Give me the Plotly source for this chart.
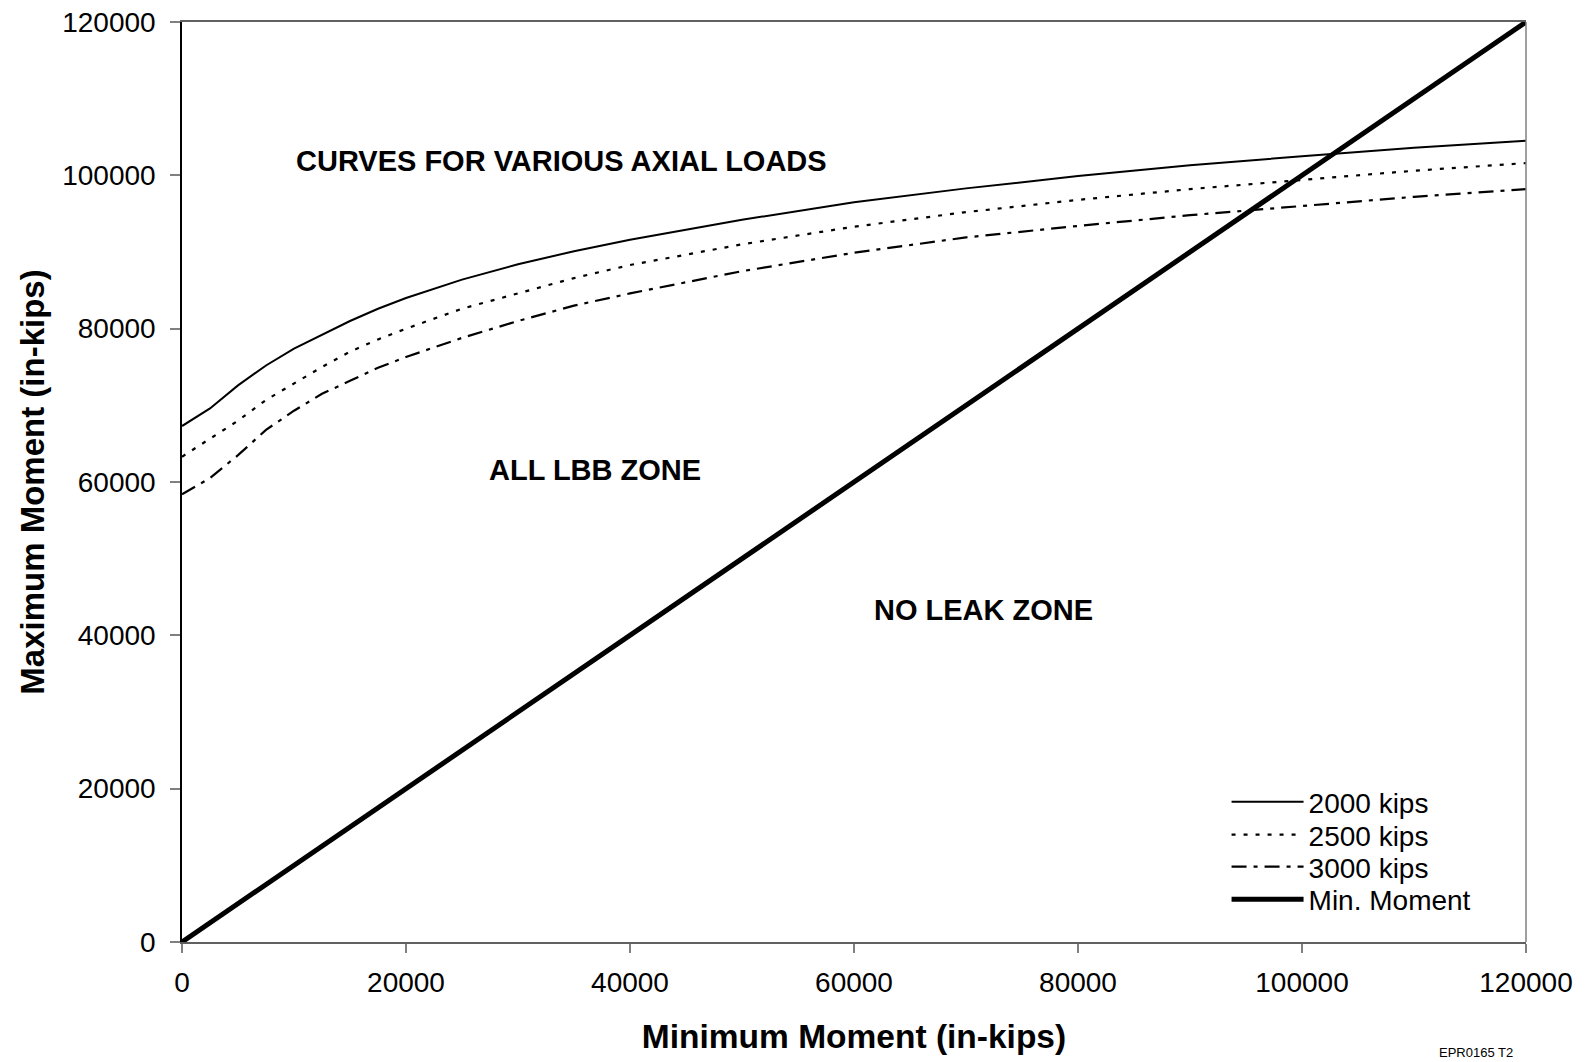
import plotly.graph_objects as go

FONT = "Liberation Sans, Arial, sans-serif"

# Minimum moment (in-kips) sample points
min_moment = [0, 2500, 5000, 7500, 10000, 12500, 15000, 17500, 20000, 25000, 30000,
              35000, 40000, 50000, 60000, 70000, 80000, 90000, 100000, 110000, 120000]

# Maximum moment curves (in-kips) for each axial load
max_2000 = [67300, 69600, 72600, 75200, 77400, 79200, 81000, 82600, 84000, 86400, 88400,
            90100, 91600, 94200, 96500, 98300, 99900, 101300, 102500, 103600, 104500]
max_2500 = [63300, 65600, 68000, 70700, 72900, 75000, 77000, 78600, 80000, 82600, 84600,
            86600, 88300, 91000, 93300, 95200, 96800, 98200, 99400, 100600, 101600]
max_3000 = [58400, 60500, 63500, 66800, 69300, 71500, 73200, 74900, 76300, 78800, 81000,
            83000, 84600, 87500, 89900, 91900, 93400, 94800, 96000, 97200, 98200]

# Min. Moment line (max = min)
diag_x = [0, 120000]
diag_y = [0, 120000]

fig = go.Figure()

fig.add_trace(go.Scatter(x=min_moment, y=max_2000, mode='lines', name='2000 kips',
                         line=dict(color='black', width=2), legend='legend'))
fig.add_trace(go.Scatter(x=min_moment, y=max_2500, mode='lines', name='2500 kips',
                         line=dict(color='black', width=2.2, dash='4px,8px'), legend='legend2'))
fig.add_trace(go.Scatter(x=min_moment, y=max_3000, mode='lines', name='3000 kips',
                         line=dict(color='black', width=2.2, dash='15px,7px,4px,7px'),
                         legend='legend3'))
fig.add_trace(go.Scatter(x=diag_x, y=diag_y, mode='lines', name='Min. Moment',
                         line=dict(color='black', width=5), legend='legend4'))

label_font = dict(family=FONT, size=29, color='black')

fig.add_annotation(x=33900, y=101900, text="<b>CURVES FOR VARIOUS AXIAL LOADS</b>",
                   showarrow=False, font=label_font)
fig.add_annotation(x=36900, y=61600, text="<b>ALL LBB ZONE</b>",
                   showarrow=False, font=label_font)
fig.add_annotation(x=71600, y=43300, text="<b>NO LEAK ZONE</b>",
                   showarrow=False, font=label_font)
fig.add_annotation(xref='paper', yref='paper', x=0.963, y=-0.120, text="EPR0165 T2",
                   showarrow=False, xanchor='center', yanchor='middle',
                   font=dict(family=FONT, size=13, color='black'))

# right edge of the plot frame (gray)
fig.add_shape(type='line', xref='paper', yref='paper', x0=1, x1=1, y0=0, y1=1,
              line=dict(color='#808080', width=1.5))


def legend_box(ypos):
    return dict(x=0.7772, y=ypos, xanchor='left', yanchor='middle',
                bgcolor='rgba(0,0,0,0)', font=dict(family=FONT, size=28),
                itemwidth=72)


fig.update_layout(
    width=1585, height=1062,
    plot_bgcolor='white', paper_bgcolor='white',
    margin=dict(l=174, r=67, t=14, b=128, autoexpand=False),
    font=dict(family=FONT, size=27, color='black'),
    showlegend=True,
    legend=legend_box(0.1522),
    legend2=legend_box(0.1163),
    legend3=legend_box(0.0815),
    legend4=legend_box(0.0462),
    xaxis=dict(
        range=[0, 120000], tickvals=[0, 20000, 40000, 60000, 80000, 100000, 120000],
        tickformat='d', showgrid=False, zeroline=False, automargin=False,
        showline=True, linecolor='#606060', linewidth=1.5, mirror=True,
        ticks='outside', ticklen=9, tickcolor='#808080', tickwidth=1.5,
        ticklabelstandoff=6, ticklabeloverflow='allow',
        tickfont=dict(family=FONT, size=28),
        title=dict(text='<b>Minimum Moment (in-kips)</b>', font=dict(family=FONT, size=33.5),
                   standoff=27),
    ),
    yaxis=dict(
        range=[0, 120000], tickvals=[0, 20000, 40000, 60000, 80000, 100000, 120000],
        tickformat='d', showgrid=False, zeroline=False, automargin=False,
        showline=True, linecolor='black', linewidth=1.5,
        ticks='outside', ticklen=10, tickcolor='#808080', tickwidth=1.5,
        ticklabelstandoff=9, ticklabeloverflow='allow',
        tickfont=dict(family=FONT, size=28),
        title=dict(text='<b>Maximum Moment (in-kips)</b>', font=dict(family=FONT, size=33),
                   standoff=8),
    ),
)

fig.write_html("out.html")
